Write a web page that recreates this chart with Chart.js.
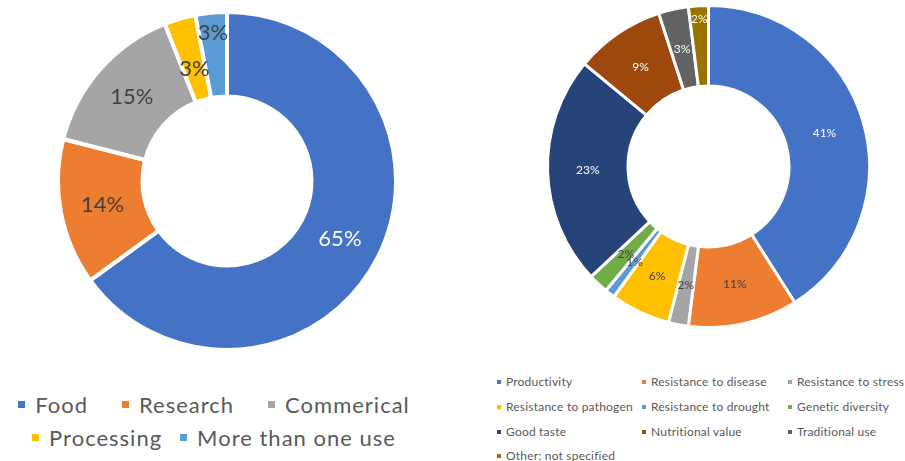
<!DOCTYPE html>
<html>
<head>
<meta charset="utf-8">
<script src="https://cdn.jsdelivr.net/npm/chart.js@4.4.1/dist/chart.umd.min.js"></script>
<style>
  body { margin: 0; background: #fff; font-family: Lato, "Open Sans", sans-serif; }
  #wrap { position: relative; width: 905px; height: 461px; overflow: hidden; }
  .box { position: absolute; }
  .legL { position: absolute; left: 0; width: 428px; color: #595959; font-size: 22px; letter-spacing: 1px; display: flex; justify-content: center; white-space: nowrap; }
  .legL span.item { display: flex; align-items: center; }
  .legL i { display: inline-block; width: 7px; height: 7px; margin-right: 10px; }
  .legR { position: absolute; color: #595959; font-size: 12px; letter-spacing: 0.2px; white-space: nowrap; display: flex; align-items: center; }
  .legR i { display: inline-block; width: 4px; height: 4px; margin-right: 5px; }
</style>
</head>
<body>
<div id="wrap">
  <div class="box" style="left:52px;top:6px;width:350px;height:350px;"><canvas id="usoChart"></canvas></div>
  <div class="box" style="left:543px;top:1px;width:331px;height:331px;"><canvas id="rasgoChart"></canvas></div>
  <div id="legendas"></div>
</div>
<script>
// uso del material (grafico izquierdo)
const usoLabels = ['Food', 'Research', 'Commerical', 'Processing', 'More than one use'];
const usoValues = [65, 14, 15, 3, 3];
const usoColors = ['#4472C4', '#ED7D31', '#A5A5A5', '#FFC000', '#5B9BD5'];

// rasgos buscados (grafico derecho)
const rasgoLabels = ['Productivity', 'Resistance to disease', 'Resistance to stress',
    'Resistance to pathogen', 'Resistance to drought', 'Genetic diversity',
    'Good taste', 'Nutritional value', 'Traditional use', 'Other: not specified'];
const rasgoValues = [41, 11, 2, 6, 1, 2, 23, 9, 3, 2];
const rasgoColors = ['#4472C4', '#ED7D31', '#A5A5A5', '#FFC000', '#5B9BD5',
    '#70AD47', '#264478', '#9E480E', '#636363', '#997300'];

const arcLabels = {
    id: 'arcLabels',
    afterDatasetsDraw(chart, args, opts) {
        const ctx = chart.ctx;
        const values = chart.data.datasets[0].data;
        chart.getDatasetMeta(0).data.forEach(function(arc, i) {
            const p = arc.getProps(['x', 'y', 'startAngle', 'endAngle', 'innerRadius', 'outerRadius'], true);
            const mid = (p.startAngle + p.endAngle) / 2;
            const r = (p.innerRadius + p.outerRadius) / 2 + (opts.shift[i] || 0);
            ctx.save();
            ctx.font = opts.size + 'px Lato, "Open Sans", sans-serif';
            ctx.fillStyle = opts.colors[i];
            ctx.textAlign = 'center';
            ctx.textBaseline = 'middle';
            ctx.fillText(values[i] + '%', p.x + Math.cos(mid) * r, p.y + Math.sin(mid) * r);
            ctx.restore();
        });
    }
};

function crearDona(id, labels, values, colors, bw, pad, labelOpts) {
    return new Chart(document.getElementById(id), {
        type: 'doughnut',
        data: {
            labels: labels,
            datasets: [{
                data: values,
                backgroundColor: colors,
                borderColor: '#ffffff',
                borderWidth: bw,
                hoverOffset: 0
            }]
        },
        options: {
            responsive: true,
            maintainAspectRatio: false,
            animation: false,
            events: [],
            cutout: '50%',
            layout: { padding: pad },
            plugins: {
                legend: { display: false },
                tooltip: { enabled: false },
                arcLabels: labelOpts
            }
        },
        plugins: [arcLabels]
    });
}

const oscuro = '#404040';
crearDona('usoChart', usoLabels, usoValues, usoColors, 4, 4, {
    size: 22,
    colors: ['#ffffff', oscuro, oscuro, oscuro, oscuro],
    shift: [0, 0, 0, -10, 22]
});
crearDona('rasgoChart', rasgoLabels, rasgoValues, rasgoColors, 3, 3, {
    size: 12,
    colors: ['#ffffff', oscuro, oscuro, oscuro, oscuro, oscuro, '#ffffff', '#ffffff', '#ffffff', '#ffffff'],
    shift: [0, 0, 0, 0, 0, 0, 0, 0, 0, 27]
});

// leyendas en HTML
const legendas = document.getElementById('legendas');
const filasUso = [[0, 1, 2], [3, 4]];
const gapsUso = [34, 18];
const topsUso = [391, 424];
filasUso.forEach(function(fila, f) {
    const div = document.createElement('div');
    div.className = 'legL';
    div.style.top = topsUso[f] + 'px';
    div.style.gap = gapsUso[f] + 'px';
    fila.forEach(function(i) {
        const s = document.createElement('span');
        s.className = 'item';
        s.innerHTML = '<i style="background:' + usoColors[i] + '"></i>' + usoLabels[i];
        div.appendChild(s);
    });
    legendas.appendChild(div);
});

const colsX = [497, 642, 788];
const filasY = [374, 399, 424, 448];
rasgoLabels.forEach(function(lab, i) {
    const div = document.createElement('div');
    div.className = 'legR';
    div.style.left = colsX[i % 3] + 'px';
    div.style.top = filasY[Math.floor(i / 3)] + 'px';
    div.innerHTML = '<i style="background:' + rasgoColors[i] + '"></i>' + lab;
    legendas.appendChild(div);
});
</script>
</body>
</html>
